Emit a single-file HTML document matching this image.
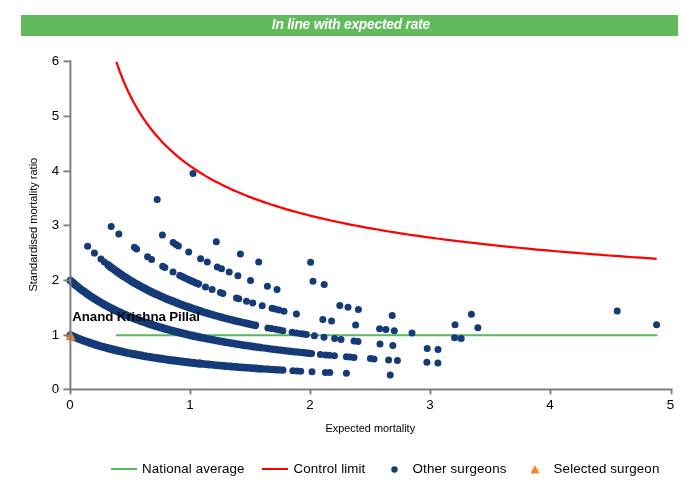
<!DOCTYPE html>
<html><head><meta charset="utf-8">
<style>
html,body{margin:0;padding:0;background:#fff;}
body{width:700px;height:500px;overflow:hidden;position:relative;font-family:"Liberation Sans",Arial,sans-serif;}
svg{position:absolute;left:0;top:0;}
text{font-family:"Liberation Sans",Arial,sans-serif;}
</style></head><body>
<svg width="700" height="500" viewBox="0 0 700 500">
<rect x="21" y="15" width="657" height="21" fill="#61ba5c"/>
<text x="351" y="28.8" text-anchor="middle" font-size="13.8" textLength="158.4" font-weight="bold" font-style="italic" fill="#fff">In line with expected rate</text>
<!-- national average -->
<line x1="116" y1="335.15" x2="657.3" y2="335.15" stroke="#5cb85c" stroke-width="2"/>
<!-- control limit -->
<polyline points="116.4,61.9 116.4,61.9 116.4,62.1 116.5,62.3 116.6,62.5 116.7,62.9 116.9,63.3 117.0,63.9 117.2,64.4 117.5,65.1 117.7,65.8 118.0,66.6 118.3,67.5 118.7,68.5 119.0,69.5 119.4,70.5 119.8,71.7 120.3,72.8 120.8,74.1 121.3,75.4 121.8,76.7 122.3,78.1 122.9,79.5 123.5,81.0 124.2,82.5 124.8,84.0 125.5,85.6 126.2,87.2 127.0,88.9 127.7,90.5 128.5,92.2 129.4,93.9 130.2,95.6 131.1,97.4 132.0,99.1 132.9,100.9 133.9,102.7 134.9,104.5 135.9,106.3 136.9,108.1 138.0,109.9 139.1,111.7 140.2,113.5 141.4,115.3 142.5,117.1 143.7,118.9 145.0,120.7 146.2,122.5 147.5,124.3 148.8,126.0 150.1,127.8 151.5,129.5 152.9,131.3 154.3,133.0 155.8,134.7 157.2,136.5 158.7,138.1 160.3,139.8 161.8,141.5 163.4,143.2 165.0,144.8 166.6,146.4 168.3,148.0 170.0,149.6 171.7,151.2 173.5,152.8 175.2,154.3 177.0,155.9 178.8,157.4 180.7,158.9 182.6,160.4 184.5,161.8 186.4,163.3 188.4,164.7 190.3,166.1 192.4,167.5 194.4,168.9 196.5,170.3 198.6,171.6 200.7,173.0 202.8,174.3 205.0,175.6 207.2,176.9 209.4,178.2 211.7,179.4 214.0,180.7 216.3,181.9 218.6,183.1 221.0,184.3 223.4,185.5 225.8,186.7 228.2,187.8 230.7,189.0 233.2,190.1 235.7,191.2 238.3,192.3 240.9,193.4 243.5,194.5 246.1,195.5 248.8,196.6 251.5,197.6 254.2,198.6 256.9,199.6 259.7,200.6 262.5,201.6 265.3,202.6 268.2,203.5 271.0,204.5 273.9,205.4 276.9,206.4 279.8,207.3 282.8,208.2 285.8,209.1 288.9,209.9 291.9,210.8 295.0,211.7 298.1,212.5 301.3,213.4 304.5,214.2 307.7,215.0 310.9,215.8 314.2,216.6 317.4,217.4 320.7,218.2 324.1,219.0 327.4,219.7 330.8,220.5 334.3,221.2 337.7,222.0 341.2,222.7 344.7,223.4 348.2,224.1 351.7,224.8 355.3,225.5 358.9,226.2 362.6,226.9 366.2,227.6 369.9,228.2 373.6,228.9 377.4,229.5 381.1,230.2 384.9,230.8 388.8,231.5 392.6,232.1 396.5,232.7 400.4,233.3 404.3,233.9 408.3,234.5 412.3,235.1 416.3,235.7 420.3,236.2 424.4,236.8 428.5,237.4 432.6,237.9 436.7,238.5 440.9,239.0 445.1,239.6 449.3,240.1 453.6,240.6 457.9,241.2 462.2,241.7 466.5,242.2 470.9,242.7 475.3,243.2 479.7,243.7 484.1,244.2 488.6,244.7 493.1,245.2 497.6,245.7 502.2,246.1 506.8,246.6 511.4,247.1 516.0,247.5 520.7,248.0 525.4,248.4 530.1,248.9 534.8,249.3 539.6,249.8 544.4,250.2 549.2,250.6 554.0,251.0 558.9,251.5 563.8,251.9 568.8,252.3 573.7,252.7 578.7,253.1 583.7,253.5 588.7,253.9 593.8,254.3 598.9,254.7 604.0,255.1 609.2,255.5 614.3,255.8 619.5,256.2 624.8,256.6 630.0,257.0 635.3,257.3 640.6,257.7 646.0,258.1 651.3,258.4 656.7,258.8" fill="none" stroke="#ff0000" stroke-width="2.25" stroke-linejoin="round"/>
<!-- other surgeons -->
<g fill="none" stroke="#143a78" stroke-linecap="round" stroke-linejoin="round">
<polyline stroke-width="8.0" points="70.5,335.2 72.5,336.1 74.5,337.0 76.6,337.9 78.6,338.7 80.6,339.5 82.6,340.2 84.7,341.0 86.7,341.7 88.7,342.4 90.7,343.1 92.8,343.8 94.8,344.4 96.8,345.1 98.8,345.7 100.9,346.3 102.9,346.8 104.9,347.4 106.9,348.0 108.9,348.5 111.0,349.0 113.0,349.5 115.0,350.0 117.0,350.5 119.1,351.0 121.1,351.4 123.1,351.9 125.1,352.3 127.2,352.8 129.2,353.2 131.2,353.6 133.2,354.0 135.2,354.4 137.3,354.8 139.3,355.1 141.3,355.5 143.3,355.9 145.4,356.2 147.4,356.6 149.4,356.9 151.4,357.2 153.5,357.6 155.5,357.9 157.5,358.2 159.5,358.5 161.6,358.8 163.6,359.1 165.6,359.4 167.6,359.7 169.6,360.0 171.7,360.2 173.7,360.5 175.7,360.8 177.7,361.0 179.8,361.3 181.8,361.5 183.8,361.8 185.8,362.0 187.9,362.2 189.9,362.5 191.9,362.7 193.9,362.9 196.0,363.2 198.0,363.4 200.0,363.6"/>
<polyline stroke-width="7.6" points="200.0,363.6 202.0,363.8 204.0,364.0 206.0,364.2 208.0,364.4 210.0,364.6 212.0,364.8 214.0,365.0 216.0,365.2 218.0,365.4 220.0,365.5 222.0,365.7 224.0,365.9 226.0,366.1 228.0,366.2 230.0,366.4 232.0,366.6 234.0,366.7 236.0,366.9 238.0,367.1 240.0,367.2 242.0,367.4 244.0,367.5 246.0,367.7 248.0,367.8 250.0,368.0 252.0,368.1 254.0,368.3 256.0,368.4 258.0,368.6 260.0,368.7"/>
<polyline stroke-width="7.2" points="260.0,368.7 262.1,368.8 264.2,369.0 266.2,369.1 268.3,369.2 270.4,369.4 272.5,369.5 274.6,369.6 276.7,369.8 278.7,369.9 280.8,370.0 282.9,370.2"/>
<polyline stroke-width="8.0" points="70.5,280.6 72.5,282.4 74.5,284.1 76.6,285.8 78.6,287.5 80.6,289.1 82.6,290.6 84.7,292.1 86.7,293.5 88.7,295.0 90.7,296.3 92.8,297.7 94.8,298.9 96.8,300.2 98.8,301.4 100.9,302.6 102.9,303.8 104.9,304.9 106.9,306.0 108.9,307.1 111.0,308.1 113.0,309.1 115.0,310.1 117.0,311.1 119.1,312.0 121.1,313.0 123.1,313.9 125.1,314.7 127.2,315.6 129.2,316.4 131.2,317.3 133.2,318.1 135.2,318.9 137.3,319.6 139.3,320.4 141.3,321.1 143.3,321.8 145.4,322.5 147.4,323.2 149.4,323.9 151.4,324.6 153.5,325.2 155.5,325.9 157.5,326.5 159.5,327.1 161.6,327.7 163.6,328.3 165.6,328.9 167.6,329.4 169.6,330.0 171.7,330.6 173.7,331.1 175.7,331.6 177.7,332.1 179.8,332.6 181.8,333.1 183.8,333.6 185.8,334.1 187.9,334.6 189.9,335.1 191.9,335.5 193.9,336.0 196.0,336.4 198.0,336.9 200.0,337.3"/>
<polyline stroke-width="7.6" points="200.0,337.3 202.0,337.7 204.0,338.1 206.0,338.5 208.0,338.9 210.0,339.3 212.0,339.7 214.0,340.1 216.0,340.5 218.0,340.8 220.0,341.2 222.0,341.6 224.0,341.9 226.0,342.3 228.0,342.6 230.0,342.9 232.0,343.3 234.0,343.6 236.0,343.9 238.0,344.2 240.0,344.6 242.0,344.9 244.0,345.2 246.0,345.5 248.0,345.8 250.0,346.1 252.0,346.4 254.0,346.6 256.0,346.9 258.0,347.2 260.0,347.5"/>
<polyline stroke-width="7.2" points="260.0,347.5 262.1,347.8 264.1,348.0 266.2,348.3 268.2,348.6 270.3,348.9 272.4,349.1 274.4,349.4 276.5,349.6 278.5,349.9 280.6,350.1 282.7,350.4 284.7,350.6 286.8,350.9 288.8,351.1 290.9,351.3 293.0,351.6 295.0,351.8 297.1,352.0 299.1,352.2 301.2,352.5 303.3,352.7 305.3,352.9 307.4,353.1 309.4,353.3 311.5,353.5"/>
<polyline stroke-width="8.0" points="108.5,265.3 110.5,266.9 112.6,268.4 114.6,269.9 116.6,271.4 118.7,272.8 120.7,274.2 122.7,275.6 124.8,276.9 126.8,278.2 128.8,279.5 130.9,280.8 132.9,282.0 134.9,283.2 137.0,284.3 139.0,285.5 141.0,286.6 143.1,287.7 145.1,288.7 147.1,289.8 149.2,290.8 151.2,291.8 153.2,292.8 155.3,293.8 157.3,294.7 159.3,295.6 161.4,296.5 163.4,297.4 165.4,298.3 167.5,299.2 169.5,300.0 171.5,300.8 173.6,301.6 175.6,302.4 177.6,303.2 179.7,304.0 181.7,304.7 183.7,305.5 185.8,306.2 187.8,306.9 189.8,307.6 191.9,308.3 193.9,309.0 195.9,309.7 198.0,310.3 200.0,311.0"/>
<polyline stroke-width="7.6" points="200.0,311.0 202.1,311.6 204.1,312.3 206.2,312.9 208.2,313.5 210.3,314.1 212.3,314.7 214.4,315.3 216.4,315.9 218.5,316.4 220.5,317.0 222.6,317.5 224.6,318.1 226.7,318.6 228.7,319.1 230.8,319.6 232.8,320.2 234.9,320.7 236.9,321.2 239.0,321.6 241.0,322.1 243.1,322.6 245.1,323.1 247.2,323.5 249.2,324.0 251.3,324.4 253.3,324.9 255.4,325.3"/>
<polyline stroke-width="7.3" points="179.9,275.5 182.0,276.5 184.0,277.5 186.1,278.5 188.2,279.4 190.2,280.4 192.3,281.3 194.4,282.2 196.4,283.2 198.5,284.0"/>
</g>
<g fill="#143a78">
<circle cx="292.9" cy="370.7" r="3.50"/>
<circle cx="297.1" cy="371.0" r="3.50"/>
<circle cx="300.7" cy="371.2" r="3.50"/>
<circle cx="312.0" cy="371.7" r="3.50"/>
<circle cx="325.4" cy="372.4" r="3.50"/>
<circle cx="329.8" cy="372.6" r="3.50"/>
<circle cx="346.4" cy="373.3" r="3.50"/>
<circle cx="390.2" cy="375.0" r="3.50"/>
<circle cx="320.4" cy="354.4" r="3.50"/>
<circle cx="325.7" cy="354.9" r="3.50"/>
<circle cx="329.5" cy="355.3" r="3.50"/>
<circle cx="334.4" cy="355.7" r="3.50"/>
<circle cx="346.4" cy="356.7" r="3.50"/>
<circle cx="350.0" cy="357.0" r="3.50"/>
<circle cx="354.0" cy="357.4" r="3.50"/>
<circle cx="370.4" cy="358.6" r="3.50"/>
<circle cx="374.0" cy="358.9" r="3.50"/>
<circle cx="388.6" cy="359.9" r="3.50"/>
<circle cx="397.4" cy="360.5" r="3.50"/>
<circle cx="426.9" cy="362.3" r="3.50"/>
<circle cx="437.9" cy="363.0" r="3.50"/>
<circle cx="87.6" cy="246.3" r="3.50"/>
<circle cx="94.4" cy="253.1" r="3.50"/>
<circle cx="101.0" cy="259.1" r="3.50"/>
<circle cx="104.4" cy="262.0" r="3.50"/>
<circle cx="267.9" cy="327.9" r="3.50"/>
<circle cx="271.4" cy="328.5" r="3.50"/>
<circle cx="275.7" cy="329.3" r="3.50"/>
<circle cx="279.3" cy="330.0" r="3.50"/>
<circle cx="282.9" cy="330.7" r="3.50"/>
<circle cx="292.1" cy="332.3" r="3.50"/>
<circle cx="296.4" cy="333.0" r="3.50"/>
<circle cx="300.7" cy="333.7" r="3.50"/>
<circle cx="303.6" cy="334.1" r="3.50"/>
<circle cx="306.4" cy="334.6" r="3.50"/>
<circle cx="314.4" cy="335.8" r="3.50"/>
<circle cx="324.0" cy="337.2" r="3.50"/>
<circle cx="334.6" cy="338.6" r="3.50"/>
<circle cx="341.0" cy="339.5" r="3.50"/>
<circle cx="354.0" cy="341.1" r="3.50"/>
<circle cx="358.0" cy="341.6" r="3.50"/>
<circle cx="380.0" cy="344.0" r="3.50"/>
<circle cx="392.8" cy="345.4" r="3.50"/>
<circle cx="427.2" cy="348.6" r="3.50"/>
<circle cx="438.0" cy="349.5" r="3.50"/>
<circle cx="111.2" cy="226.6" r="3.50"/>
<circle cx="118.8" cy="233.9" r="3.50"/>
<circle cx="134.4" cy="247.2" r="3.50"/>
<circle cx="136.6" cy="248.9" r="3.50"/>
<circle cx="147.6" cy="256.7" r="3.50"/>
<circle cx="151.6" cy="259.4" r="3.50"/>
<circle cx="162.7" cy="266.2" r="3.50"/>
<circle cx="164.8" cy="267.4" r="3.50"/>
<circle cx="173.0" cy="271.9" r="3.50"/>
<circle cx="205.5" cy="286.9" r="3.50"/>
<circle cx="212.1" cy="289.5" r="3.50"/>
<circle cx="220.4" cy="292.6" r="3.50"/>
<circle cx="222.9" cy="293.5" r="3.50"/>
<circle cx="236.5" cy="298.1" r="3.50"/>
<circle cx="238.8" cy="298.8" r="3.50"/>
<circle cx="246.5" cy="301.2" r="3.50"/>
<circle cx="252.8" cy="303.0" r="3.50"/>
<circle cx="262.2" cy="305.7" r="3.50"/>
<circle cx="272.0" cy="308.2" r="3.50"/>
<circle cx="275.0" cy="309.0" r="3.50"/>
<circle cx="279.0" cy="310.0" r="3.50"/>
<circle cx="284.0" cy="311.2" r="3.50"/>
<circle cx="296.4" cy="314.0" r="3.50"/>
<circle cx="322.8" cy="319.4" r="3.50"/>
<circle cx="331.6" cy="321.0" r="3.50"/>
<circle cx="355.6" cy="325.1" r="3.50"/>
<circle cx="379.6" cy="328.7" r="3.50"/>
<circle cx="385.9" cy="329.6" r="3.50"/>
<circle cx="394.3" cy="330.7" r="3.50"/>
<circle cx="412.0" cy="333.0" r="3.50"/>
<circle cx="454.6" cy="337.8" r="3.50"/>
<circle cx="461.2" cy="338.5" r="3.50"/>
<circle cx="162.4" cy="235.0" r="3.50"/>
<circle cx="173.2" cy="242.6" r="3.50"/>
<circle cx="176.0" cy="244.4" r="3.50"/>
<circle cx="178.4" cy="245.9" r="3.50"/>
<circle cx="188.7" cy="252.1" r="3.50"/>
<circle cx="200.6" cy="258.7" r="3.50"/>
<circle cx="207.3" cy="262.1" r="3.50"/>
<circle cx="217.3" cy="266.9" r="3.50"/>
<circle cx="221.5" cy="268.8" r="3.50"/>
<circle cx="229.2" cy="272.1" r="3.50"/>
<circle cx="237.9" cy="275.7" r="3.50"/>
<circle cx="250.5" cy="280.5" r="3.50"/>
<circle cx="267.4" cy="286.3" r="3.50"/>
<circle cx="277.0" cy="289.4" r="3.50"/>
<circle cx="339.8" cy="305.6" r="3.50"/>
<circle cx="348.0" cy="307.3" r="3.50"/>
<circle cx="358.4" cy="309.4" r="3.50"/>
<circle cx="392.2" cy="315.6" r="3.50"/>
<circle cx="455.0" cy="324.8" r="3.50"/>
<circle cx="477.9" cy="327.7" r="3.50"/>
<circle cx="157.2" cy="199.4" r="3.50"/>
<circle cx="216.3" cy="241.7" r="3.50"/>
<circle cx="240.4" cy="254.1" r="3.50"/>
<circle cx="258.7" cy="262.1" r="3.50"/>
<circle cx="313.0" cy="281.3" r="3.50"/>
<circle cx="324.2" cy="284.5" r="3.50"/>
<circle cx="471.4" cy="314.3" r="3.50"/>
<circle cx="310.6" cy="262.3" r="3.50"/>
<circle cx="656.6" cy="324.8" r="3.50"/>
<circle cx="193.0" cy="173.4" r="3.50"/>
<circle cx="617.2" cy="311.1" r="3.50"/>
</g>
<!-- selected surgeon -->
<polygon points="70.6,330.6 75.6,340.3 65.6,340.3" fill="#f5871f"/>
<!-- axes -->
<g stroke="#808080" stroke-width="2" fill="none">
<line x1="70.4" y1="60.4" x2="70.4" y2="390.4"/>
<line x1="69.4" y1="389.4" x2="672.5" y2="389.4"/>
</g>
<g stroke="#808080" stroke-width="1.9" fill="none">
<line x1="63.4" y1="389.4" x2="70.5" y2="389.4"/><line x1="63.4" y1="335.4" x2="70.5" y2="335.4"/><line x1="63.4" y1="280.4" x2="70.5" y2="280.4"/><line x1="63.4" y1="225.4" x2="70.5" y2="225.4"/><line x1="63.4" y1="171.4" x2="70.5" y2="171.4"/><line x1="63.4" y1="116.4" x2="70.5" y2="116.4"/><line x1="63.4" y1="61.4" x2="70.5" y2="61.4"/>
<line x1="70.5" y1="389.5" x2="70.5" y2="394.4"/><line x1="190.5" y1="389.5" x2="190.5" y2="394.4"/><line x1="310.5" y1="389.5" x2="310.5" y2="394.4"/><line x1="430.5" y1="389.5" x2="430.5" y2="394.4"/><line x1="550.5" y1="389.5" x2="550.5" y2="394.4"/><line x1="671.5" y1="389.5" x2="671.5" y2="394.4"/>
</g>
<g font-size="13.33" fill="#000" text-anchor="end">
<text x="59.2" y="392.7">0</text><text x="59.2" y="338.7">1</text><text x="59.2" y="283.7">2</text><text x="59.2" y="228.7">3</text><text x="59.2" y="174.7">4</text><text x="59.2" y="119.7">5</text><text x="59.2" y="64.7">6</text>
</g>
<g font-size="13.33" fill="#000" text-anchor="middle">
<text x="69.9" y="409.1">0</text><text x="189.9" y="409.1">1</text><text x="309.9" y="409.1">2</text><text x="429.9" y="409.1">3</text><text x="549.9" y="409.1">4</text><text x="670.4" y="409.1">5</text>
</g>
<text x="370.3" y="431.6" text-anchor="middle" font-size="11.4" textLength="89.6" lengthAdjust="spacingAndGlyphs" fill="#000">Expected mortality</text>
<text transform="translate(37.2,224.7) rotate(-90)" text-anchor="middle" font-size="11.5" textLength="133.8" lengthAdjust="spacingAndGlyphs" fill="#000">Standardised mortality ratio</text>
<text x="72.3" y="320.6" font-size="13.33" textLength="127.6" font-weight="bold" fill="#000">Anand Krishna Pillai</text>
<!-- legend -->
<line x1="111" y1="469" x2="137" y2="469" stroke="#5cb85c" stroke-width="2"/>
<text x="142.1" y="472.6" font-size="13.33" textLength="102.4" fill="#000">National average</text>
<line x1="262" y1="469" x2="288" y2="469" stroke="#ff0000" stroke-width="2"/>
<text x="293.5" y="472.6" font-size="13.33" textLength="71.8" fill="#000">Control limit</text>
<circle cx="394.5" cy="469.5" r="3.2" fill="#143a78"/>
<text x="412.6" y="472.6" font-size="13.33" textLength="93.8" fill="#000">Other surgeons</text>
<polygon points="535,465 539.5,473.5 530.5,473.5" fill="#f5871f"/>
<text x="553.6" y="472.6" font-size="13.33" textLength="105.7" fill="#000">Selected surgeon</text>
</svg>
</body></html>
